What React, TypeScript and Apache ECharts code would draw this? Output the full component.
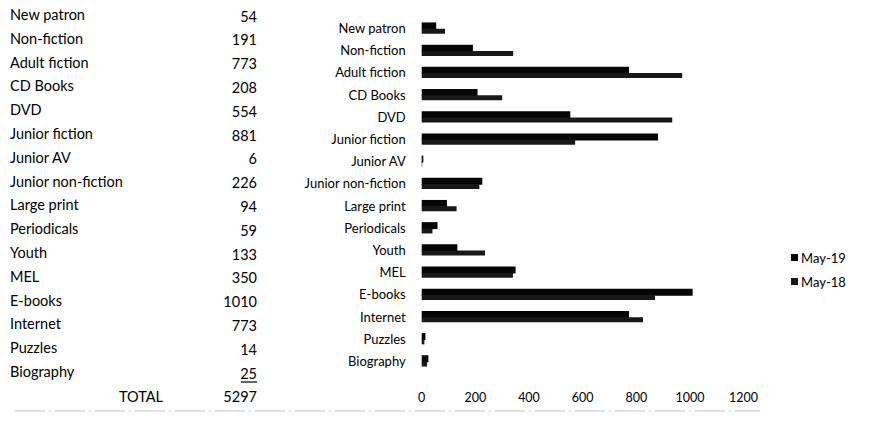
import React, { useEffect, useRef } from "react";
import * as echarts from "echarts";

const categories = [
  "New patron", "Non-fiction", "Adult fiction", "CD Books", "DVD", "Junior fiction",
  "Junior AV", "Junior non-fiction", "Large print", "Periodicals", "Youth", "MEL",
  "E-books", "Internet", "Puzzles", "Biography",
];
const may19 = [54, 191, 773, 208, 554, 881, 6, 226, 94, 59, 133, 350, 1010, 773, 14, 25];
const may18 = [87, 341, 971, 300, 934, 572, 2, 215, 130, 40, 236, 340, 870, 825, 10, 20];
const totalLabel = "TOTAL";
const totalValue = "5297";
const xTicks = { min: 0, max: 1200, interval: 200 };

const FONT = "Lato, 'Open Sans', sans-serif";

export default function App() {
  const ref = useRef<HTMLDivElement>(null);
  useEffect(() => {
    if (!ref.current) return;
    const chart = echarts.init(ref.current, undefined, { renderer: "svg" });

    const rowY0 = 16;
    const rowStep = 23.8;
    const tableGraphics: any[] = [];
    categories.forEach((c, i) => {
      const y = rowY0 + i * rowStep;
      tableGraphics.push({
        type: "text", left: 10, top: y - 9,
        style: { text: c, font: `14.5px ${FONT}`, fill: "#000" },
      });
      tableGraphics.push({
        type: "text", x: 257, y: y,
        style: { text: String(may19[i]), font: `14.5px ${FONT}`, fill: "#000", align: "right", verticalAlign: "middle" },
      });
    });
    const lastY = rowY0 + (categories.length - 1) * rowStep;
    tableGraphics.push({
      type: "line",
      shape: { x1: 241, y1: lastY + 9, x2: 257, y2: lastY + 9 },
      style: { stroke: "#000", lineWidth: 1.2 },
    });
    const totY = rowY0 + categories.length * rowStep;
    tableGraphics.push({
      type: "text", x: 141, y: totY,
      style: { text: totalLabel, font: `14.5px ${FONT}`, fill: "#000", align: "center", verticalAlign: "middle" },
    });
    tableGraphics.push({
      type: "text", x: 257, y: totY,
      style: { text: totalValue, font: `14.5px ${FONT}`, fill: "#000", align: "right", verticalAlign: "middle" },
    });
    tableGraphics.push({
      type: "line",
      shape: { x1: 15, y1: 411, x2: 760, y2: 411 },
      style: { stroke: "#c4c4c4", lineWidth: 1, lineDash: [30, 4, 2, 4] },
    });

    chart.setOption({
      animation: false,
      textStyle: { fontFamily: FONT },
      grid: { left: 421.7, right: 138.4, top: 17, bottom: 53, containLabel: false },
      legend: {
        orient: "vertical",
        left: 786,
        top: 246,
        itemWidth: 7,
        itemHeight: 7,
        itemGap: 11,
        icon: "rect",
        textStyle: { fontSize: 13, color: "#000", fontFamily: FONT, padding: [0, 0, 0, -2] },
        data: ["May-19", "May-18"],
      },
      xAxis: {
        type: "value",
        min: xTicks.min,
        max: xTicks.max,
        interval: xTicks.interval,
        axisLine: { show: false },
        axisTick: { show: false },
        splitLine: { show: false },
        axisLabel: { fontSize: 12.5, color: "#000", margin: 19, fontFamily: FONT, formatter: (v: number) => String(v) },
      },
      yAxis: {
        type: "category",
        data: categories,
        inverse: true,
        axisLine: { show: false },
        axisTick: { show: false },
        axisLabel: { fontSize: 13, color: "#000", margin: 16, fontFamily: FONT },
      },
      series: [
        {
          name: "May-19", type: "bar", data: may19, barWidth: 7, barGap: "-10%",
          itemStyle: { color: "#050505" },
        },
        {
          name: "May-18", type: "bar", data: may18, barWidth: 5,
          itemStyle: { color: "#181818" },
        },
      ],
      graphic: tableGraphics,
    });
    return () => chart.dispose();
  }, []);
  return (
    <div
      ref={ref}
      style={{ position: "fixed", left: 0, top: 0, width: 882, height: 425, background: "#fff" }}
    />
  );
}
